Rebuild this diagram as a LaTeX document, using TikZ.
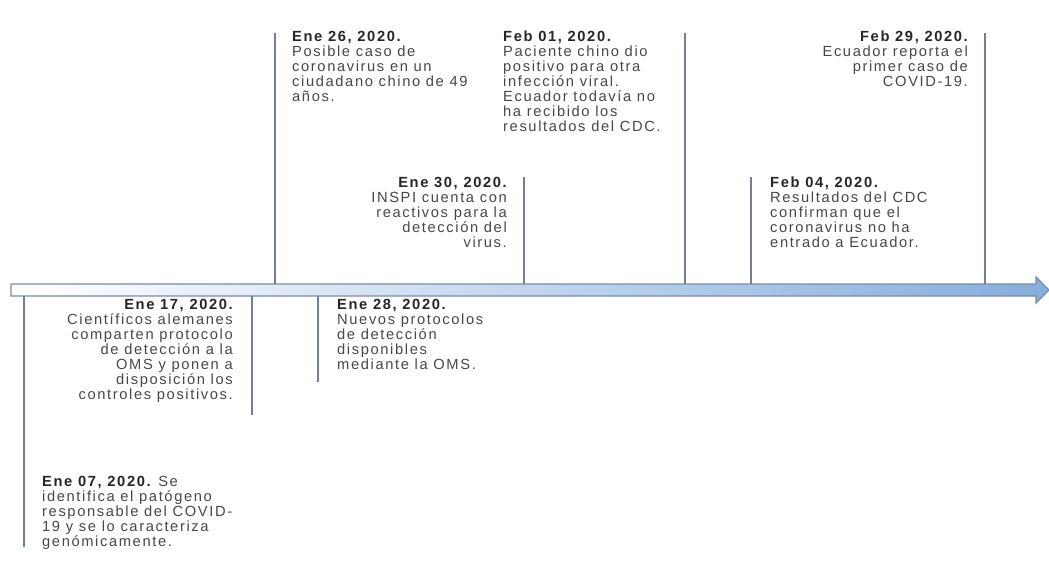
\documentclass[tikz,border=0pt]{standalone}
\usepackage{fontspec}
\setmainfont{Liberation Sans}[LetterSpace=11]
\usepackage{xcolor}
\usepackage{tikz}

\definecolor{tickblue}{HTML}{6E819A}
\definecolor{axisline}{HTML}{7A8CA5}
\definecolor{axismid}{HTML}{D6E4F4}
\definecolor{axisblue}{HTML}{86ADDD}
\definecolor{bodygray}{HTML}{474747}

\tikzset{
  tick/.style={tickblue, line width=2.3pt},
  event/.style={inner sep=0pt, text=bodygray,
    font=\fontsize{14.7}{15}\selectfont},
}
\newcommand{\when}[1]{\textbf{\color{black!85}#1}}

\begin{document}
\begin{tikzpicture}[x=1pt,y=-1pt]
  \useasboundingbox (0,0) rectangle (1049,563);
  % time axis
  \draw[axisline, line width=1.3pt, left color=white, middle color=axismid,
        right color=axisblue]
    (11,284) -- (1036,284) -- (1036,277) -- (1049,290)
    -- (1036,303) -- (1036,296) -- (11,296) -- cycle
  ;
  \coordinate (axtop) at (0,284);
  \coordinate (axbot) at (0,296);
  % ticks above the axis
  \coordinate (t26) at (275,33);
  \coordinate (t01) at (685,33);
  \coordinate (t29) at (985,33);
  \coordinate (t30) at (524,177);
  \coordinate (t04) at (751,177);
  \foreach \t in {t26,t01,t29,t30,t04}
    \draw[tick] (\t) -- (\t |- axtop);
  % ticks below the axis
  \coordinate (b07) at (24,547);
  \coordinate (b17) at (252,415);
  \coordinate (b28) at (318,382);
  \foreach \b in {b07,b17,b28}
    \draw[tick] (\b) -- (\b |- axbot);
  % events
  \node (e26) [event, anchor=north west, align=left] at (292,31)
    {\when{Ene 26, 2020.}\\Posible caso de\\coronavirus en un\\ciudadano chino de 49\\años.};
  \node (e01) [event, anchor=north west, align=left] at (503,31)
    {\when{Feb 01, 2020.}\\Paciente chino dio\\positivo para otra\\infección viral.\\Ecuador todavía no\\ha recibido los\\resultados del CDC.};
  \node (e29) [event, anchor=north east, align=right] at (968,31)
    {\when{Feb 29, 2020.}\\Ecuador reporta el\\primer caso de\\COVID-19.};
  \node (e30) [event, anchor=north east, align=right] at (507,177)
    {\when{Ene 30, 2020.}\\INSPI cuenta con\\reactivos para la\\detección del\\virus.};
  \node (e04) [event, anchor=north west, align=left] at (770,177)
    {\when{Feb 04, 2020.}\\Resultados del CDC\\confirman que el\\coronavirus no ha\\entrado a Ecuador.};
  \node (e17) [event, anchor=north east, align=right] at (233,299)
    {\when{Ene 17, 2020.}\\Científicos alemanes\\comparten protocolo\\de detección a la\\OMS y ponen a\\disposición los\\controles positivos.};
  \node (e28) [event, anchor=north west, align=left] at (337,299)
    {\when{Ene 28, 2020.}\\Nuevos protocolos\\de detección\\disponibles\\mediante la OMS.};
  \node (e07) [event, anchor=north west, align=left] at (42,476)
    {\when{Ene 07, 2020.} Se\\identifica el patógeno\\responsable del COVID-\\19 y se lo caracteriza\\genómicamente.};
\end{tikzpicture}
\end{document}
